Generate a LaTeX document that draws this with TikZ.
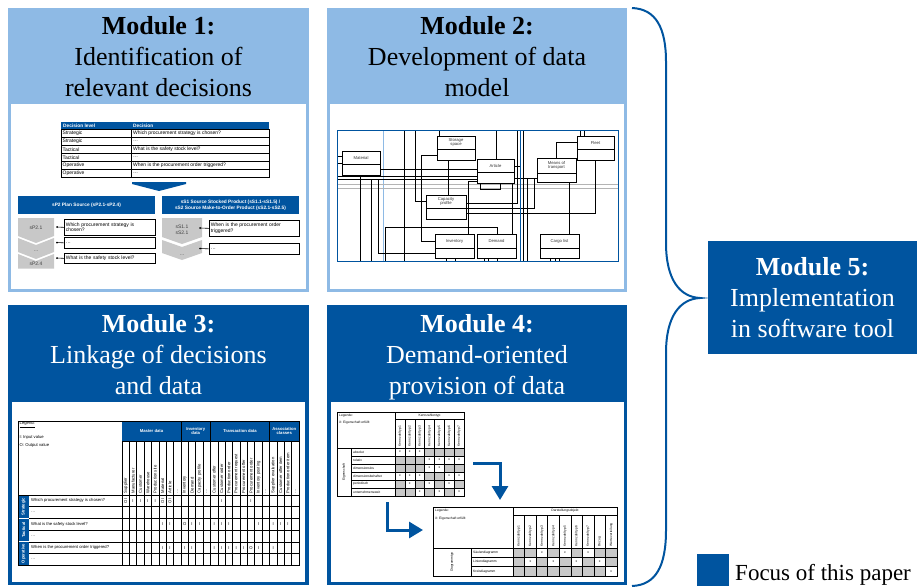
\documentclass[tikz,border=0pt]{standalone}
\usepackage{fontspec}
\setmainfont{Liberation Serif}
\setsansfont{Liberation Sans}
\usetikzlibrary{arrows.meta}
\definecolor{dblue}{HTML}{00549F}
\definecolor{lblue}{HTML}{8EBAE5}
\definecolor{cgray}{HTML}{C8C8C8}
\definecolor{lgray}{HTML}{B4B4B4}
\tikzset{
  ttl/.style={font=\fontsize{26}{31}\selectfont, anchor=base, inner sep=0pt},
  ttlb/.style={font=\bfseries\fontsize{26}{31}\selectfont, anchor=base, inner sep=0pt},
  tA/.style={font=\sffamily\fontsize{5}{5.7}\selectfont, inner sep=0pt},
  tAb/.style={font=\sffamily\bfseries\fontsize{4.8}{5.6}\selectfont, inner sep=0pt, text=white},
  tB/.style={font=\sffamily\fontsize{4.2}{4.8}\selectfont, inner sep=0pt},
  tBb/.style={font=\sffamily\bfseries\fontsize{4.2}{4.8}\selectfont, inner sep=0pt, text=white, align=center},
  tC/.style={font=\sffamily\fontsize{3.3}{3.8}\selectfont, inner sep=0pt},
  tE/.style={font=\sffamily\fontsize{4.2}{4.8}\selectfont, inner sep=0pt, text=black!80, align=center},
  gridl/.style={draw=black, line width=0.6pt},
  thinl/.style={draw=black, line width=0.4pt},
  mline/.style={draw=black, line width=0.7pt},
  qbox/.style={draw, line width=0.7pt, fill=white, font=\sffamily\fontsize{5}{5.7}\selectfont, inner sep=1.5pt, align=left, anchor=north west},
  chev/.style={fill=cgray},
  bigarrow/.style={draw=dblue, line width=3pt, -{Triangle[width=16pt,length=14pt]}},
}
\newcommand{\mkentity}[6]{%
  \fill[white] (#2,#3) rectangle ++(#4,24);
  \draw[line width=0.7pt] (#2,#3) rectangle ++(#4,24);
  \draw[line width=0.7pt] (#2,#3+#5) -- ++(#4,0);
  \node[tE] (#1) at (#2+#4/2,#3+#5/2) {#6};
}
\begin{document}
\begin{tikzpicture}[x=1pt,y=-1pt]
\useasboundingbox (0,0) rectangle (917,588);
% ---------- panels
\fill[lblue] (8,8) rectangle (309,292);
\fill[white] (10.5,104) rectangle (306,289);
\fill[lblue] (327,8) rectangle (627,292);
\fill[white] (329.5,104) rectangle (624,289);
\fill[dblue] (8,305) rectangle (309,585);
\fill[white] (12,402) rectangle (305,582);
\fill[dblue] (327,305) rectangle (627,585);
\fill[white] (331,402) rectangle (623.5,582);
% ---------- titles
\node[ttlb] (m1a) at (158.5,35) {Module 1:};
\node[ttl] (m1b) at (158.5,66) {Identification of};
\node[ttl] (m1c) at (158.5,97) {relevant decisions};
\node[ttlb] (m2a) at (477,35) {Module 2:};
\node[ttl] (m2b) at (477,66) {Development of data};
\node[ttl] (m2c) at (477,97) {model};
\node[ttlb, text=white] (m3a) at (158.5,332) {Module 3:};
\node[ttl, text=white] (m3b) at (158.5,363) {Linkage of decisions};
\node[ttl, text=white] (m3c) at (158.5,394) {and data};
\node[ttlb, text=white] (m4a) at (477,332) {Module 4:};
\node[ttl, text=white] (m4b) at (477,363) {Demand-oriented};
\node[ttl, text=white] (m4c) at (477,394) {provision of data};
% ---------- module 5, brace, legend
\draw[dblue, line width=2pt] (632,8) .. controls (656,9) and (666,28) .. (666,62) -- (666,243)
  .. controls (666,280) and (680,297) .. (700,298)
  .. controls (680,299) and (666,316) .. (666,353) -- (666,530)
  .. controls (666,566) and (656,585) .. (632,586);
\fill[dblue] (708,241) rectangle (917,354);
\node[ttlb, text=white] (m5a) at (812.5,275) {Module 5:};
\node[ttl, text=white] (m5b) at (812.5,306) {Implementation};
\node[ttl, text=white] (m5c) at (812.5,337) {in software tool};
\fill[dblue] (697,554) rectangle (729,586);
\node[font=\fontsize{23}{27}\selectfont, anchor=base west, inner sep=0pt] (leg) at (735,580) {Focus of this paper};
% ---------- module 1 content
\fill[dblue] (61,122) rectangle (269,129.5);
\node[tAb, anchor=west] (h1) at (63,125.8) {Decision level};
\node[tAb, anchor=west] (h2) at (133,125.8) {Decision};
\foreach \lv/\q [count=\i from 0] in {Strategic/Which procurement strategy is chosen?, Strategic/\ldots, Tactical/What is the safety stock level?, Tactical/\ldots, Operative/When is the procurement order triggered?, Operative/\ldots}{
  \draw[thinl] (61,129.5+\i*7.92) rectangle (131,137.42+\i*7.92);
  \draw[gridl] (131,129.5+\i*7.92) rectangle (269,137.42+\i*7.92);
  \node[tA, anchor=west] (lv\i) at (62.5,133.46+\i*7.92) {\lv};
  \node[tA, anchor=west] (qq\i) at (133,133.46+\i*7.92) {\q};
}
\fill[dblue] (132,182) -- (186,182) -- (186,184) -- (159,191) -- (132,184) -- cycle;
\fill[dblue] (18,196) rectangle (155,214);
\node[tAb] (sp2) at (86.5,205) {sP2 Plan Source (sP2.1-sP2.4)};
\fill[dblue] (162,196) rectangle (299,214);
\node[tAb, align=center] (ss1) at (230.5,205) {sS1 Source Stocked Product (sS1.1-sS1.5) /\\sS2 Source Make-to-Order Product (sS2.1-sS2.5)};
\fill[chev] (18,218) -- (54,218) -- (54,236) -- (36,243) -- (18,236) -- cycle;
\fill[chev] (18,238) -- (36,245) -- (54,238) -- (54,252) -- (36,259) -- (18,252) -- cycle;
\fill[chev] (18,254) -- (36,261) -- (54,254) -- (54,268.5) -- (18,268.5) -- cycle;
\node[tA, text=black!75] (c1) at (36,228) {sP2.1};
\node[tA, text=black!75] (c2) at (36,251) {\ldots};
\node[tA, text=black!75] (c3) at (36,264) {sP2.4};
\fill[chev] (162,218) -- (202,218) -- (202,237) -- (182,244) -- (162,237) -- cycle;
\fill[chev] (162,240) -- (182,247) -- (202,240) -- (202,253) -- (182,260) -- (162,253) -- cycle;
\node[tA, text=black!75, align=center] (c4) at (182,229.5) {sS1.1\\sS2.1};
\node[tA, text=black!75] (c5) at (182,255) {\ldots};
\node[qbox, minimum width=91, minimum height=16, text width=88] (b1) at (64,219) {Which procurement strategy is\\chosen?};
\node[qbox, minimum width=91, minimum height=11, text width=88] (b2) at (64,237) {\ldots};
\node[qbox, minimum width=91, minimum height=10, text width=88] (b3) at (64,253) {What is the safety stock level?};
\node[qbox, minimum width=90, minimum height=16, text width=87] (b4) at (209,220) {When is the procurement order\\triggered?};
\node[qbox, minimum width=90, minimum height=11, text width=87] (b5) at (209,243) {\ldots};
\coordinate (d1) at (57,227);
\coordinate (d2) at (57,242.5);
\coordinate (d3) at (57,258);
\coordinate (d4) at (200,228);
\coordinate (d5) at (200,248.5);
\foreach \d/\b in {d1/b1,d2/b2,d3/b3,d4/b4,d5/b5}{
  \draw[line width=0.6pt] (\d) -- (\b.west);
  \fill (\d) circle (1);
}
% ---------- module 2 content
\draw[lblue, line width=0.9pt] (383,131) -- (383,261);
\draw[lgray, line width=0.6pt] (337,184) -- (618,184) (337,188) -- (618,188);
\draw[mline] (404,131) -- (404,261);
\draw[mline] (415,131) -- (415,201) -- (426,201);
\draw[mline] (439,131) -- (439,136);
\draw[mline] (496,131) -- (496,159);
\draw[mline] (517,131) -- (517,203) -- (466,203);
\draw[mline] (514,166) -- (520,166);
\draw[mline] (380,169) -- (477,169);
\draw[mline] (337,176) -- (477,176);
\draw[mline] (337,179) -- (477,179);
\draw[mline] (337,156) -- (342,156) (337,163) -- (342,163);
\draw[mline] (360,175) -- (360,261);
\draw[mline] (371,179) -- (371,261);
\draw[mline] (378,179) -- (378,253) -- (435,253);
\draw[mline] (385,261) -- (385,227) -- (497,227) -- (497,234);
\draw[mline] (437,155) -- (421,155) -- (421,241) -- (435,241);
\draw[mline] (448,160) -- (448,195);
\draw[mline] (480,183) -- (480,189) -- (500,189) -- (500,183);
\draw[mline] (477,181) -- (468,181) -- (468,234);
\draw[mline] (512,183) -- (512,234);
\draw[mline] (514,178) -- (537,178) (527,178) -- (527,261);
\draw[mline] (556,158) -- (556,142) -- (577,142);
\draw[mline] (580,131) -- (580,136) (584,131) -- (584,136);
\draw[mline] (569,183) -- (569,234);
\draw[mline] (466,208) -- (534,208) -- (534,178);
\draw[mline] (466,213) -- (595,213) -- (595,160);
\draw[mline] (446,258) -- (446,261) (455,258) -- (455,261);
\draw[mline] (484,258) -- (484,261) (488,258) -- (488,261) (497,258) -- (497,261);
\draw[mline] (550,258) -- (550,261) (555,258) -- (555,261) (559,258) -- (559,261);
\draw[dblue, line width=0.8pt] (520.5,131) -- (520.5,261);
\draw[black, line width=0.6pt] (523,131) -- (523,261);
\mkentity{mat}{342}{151}{38}{13}{Material}
\mkentity{sto}{437}{136}{38}{13}{Storage\\space}
\mkentity{art}{477}{159}{37}{13}{Article}
\mkentity{mot}{537}{158}{39}{15}{Means of\\transport}
\mkentity{flt}{577}{136}{37}{13}{Fleet}
\mkentity{cap}{426}{195}{40}{13}{Capacity\\profile}
\mkentity{inv}{435}{234}{39}{14}{Inventory}
\mkentity{dem}{477}{234}{39}{14}{Demand}
\mkentity{car}{540}{234}{39}{14}{Cargo list}
\draw[dblue, line width=1pt] (337,131) rectangle (618,261);
% ---------- module 3 content
\fill[dblue] (122,421) rectangle (299,441);
\node[tBb] (g1) at (151.5,431) {Master data};
\node[tBb] (g2) at (195.75,431) {Inventory\\data};
\node[tBb] (g3) at (240,431) {Transaction data};
\node[tBb] (g4) at (284.25,431) {Association\\classes};
\node[tB, anchor=west] (lg1) at (19.5,424.5) {\underline{Legend:}};
\node[tB, anchor=west] (lg2) at (19.5,437) {I: Input value};
\node[tB, anchor=west] (lg3) at (19.5,445) {O: Output value};
\foreach \c [count=\i from 0] in {Supplier, Manufacturer, Customer, Warehouse, Production site, Material, Article, \ldots, Inventory, Demand, Capacity profile, \ldots, Customer offer, Customer order, Production order, Procurement request, Procurement offer, Procurement order, Inventory posting, \ldots, Supplier evaluation, Customer offer item, Production order item, \ldots}{
  \node[tB, rotate=90, anchor=west] (ch\i) at (122+\i*7.375+3.69,493.5) {\c};
}
\fill[dblue] (18,495) rectangle (29,518.4);
\fill[dblue] (18,518.4) rectangle (29,541.8);
\fill[dblue] (18,541.8) rectangle (29,565.2);
\draw[white, line width=0.8pt] (18,518.4) -- (29,518.4) (18,541.8) -- (29,541.8);
\node[tBb, rotate=90] (s1) at (23.5,506.7) {Strategic};
\node[tBb, rotate=90] (s2) at (23.5,530.1) {Tactical};
\node[tBb, rotate=90] (s3) at (23.5,553.5) {Operative};
\foreach \q [count=\i from 0] in {Which procurement strategy is chosen?, \ldots, What is the safety stock level?, \ldots, When is the procurement order triggered?, \ldots}{
  \node[tB, anchor=west] (rq\i) at (31,500.85+\i*11.7) {\q};
}
\foreach \i in {0,...,24}{
  \draw[gridl] (122+\i*7.375,441) -- (122+\i*7.375,565.2);
}
\foreach \r in {0,...,6}{
  \draw[gridl] (29,495+\r*11.7) -- (299,495+\r*11.7);
}
\draw[gridl] (122,441) -- (299,441);
\draw[gridl] (181,421) -- (181,441) (210.5,421) -- (210.5,441) (269.5,421) -- (269.5,441);
\draw[gridl] (18,421) rectangle (299,565.2);
\draw[gridl] (18,495) -- (122,495);
\foreach \r/\c/\t in {0/1/I, 0/2/I, 0/3/I, 0/4/I, 0/13/I, 0/17/I, 2/5/I, 2/6/I, 2/8/O, 2/9/I, 2/10/I, 2/12/I, 2/13/I, 2/14/I, 2/18/I, 2/20/I, 2/21/I, 2/22/I, 4/5/I, 4/6/I, 4/8/I, 4/9/I, 4/12/I, 4/13/I, 4/14/I, 4/15/I, 4/16/I, 4/17/O, 4/18/I, 4/20/I}{
  \node[tB] at (122+\c*7.375+3.69,500.85+\r*11.7) {\t};
}
\foreach \c in {0,5,6}{
  \node[tB, rotate=90] at (122+\c*7.375+3.69,500.85) {O\,I};
}
% ---------- module 4 content : table 1
\foreach \r/\c in {0/3,0/4,0/5,0/6,1/0,1/1,1/2,2/0,2/1,2/2,2/5,2/6,3/3,3/4,4/0,4/2,4/4,4/6,5/0,5/1,5/3,5/5}{
  \fill[cgray] (395+\c*9.857,448+\r*8) rectangle ++(9.857,8);
}
\foreach \r/\c in {0/0,0/1,0/2,1/3,1/4,1/5,1/6,2/3,2/4,3/0,3/1,3/2,3/5,3/6,4/1,4/3,4/5,5/2,5/4,5/6}{
  \node[tC] at (395+\c*9.857+4.93,452+\r*8) {x};
}
\draw[thinl] (337,412) rectangle (464,496);
\draw[thinl] (395,412) -- (395,496) (395,419) -- (464,419) (337,448) -- (464,448) (351,448) -- (351,496);
\foreach \i in {1,...,6}{
  \draw[thinl] (395+\i*9.857,419) -- (395+\i*9.857,496);
}
\foreach \r in {1,...,5}{
  \draw[thinl] (351,448+\r*8) -- (464,448+\r*8);
}
\node[tC, anchor=west] (l1a) at (339,416) {Legende:};
\node[tC, anchor=west] (l1b) at (339,423) {X: Eigenschaft erfüllt};
\node[tC] (k1) at (429.5,415.5) {Kennzahlentyp};
\foreach \i in {1,...,7}{
  \node[tC, rotate=90, anchor=west] at (395+\i*9.857-4.93,446.5) {Kennzahltyp \i};
}
\foreach \t [count=\i from 0] in {absolut, relativ, dimensionslos, dimensionsbehaftet, periodisch, unternehmensweit}{
  \node[tC, anchor=west] at (353,452+\i*8) {\t};
}
\node[tC, rotate=90] (e1) at (344,472) {Eigenschaft};
% ---------- module 4 content : table 2
\foreach \r/\c in {0/0,0/1,0/3,0/5,0/7,0/8,1/0,1/2,1/4,1/6,1/8,2/0,2/1,2/2,2/3,2/4,2/5,2/6,2/7}{
  \fill[cgray] (513+\c*11.556,548+\r*9.33) rectangle ++(11.556,9.33);
}
\foreach \r/\c in {0/2,0/4,0/6,1/1,1/3,1/5,1/7,2/8}{
  \node[tC] at (513+\c*11.556+5.78,552.67+\r*9.33) {x};
}
\draw[thinl] (433,507) rectangle (617,576);
\draw[thinl] (513,507) -- (513,576) (513,515) -- (617,515) (433,548) -- (617,548) (471,548) -- (471,576);
\foreach \i in {1,...,8}{
  \draw[thinl] (513+\i*11.556,515) -- (513+\i*11.556,576);
}
\foreach \r in {1,2}{
  \draw[thinl] (471,548+\r*9.33) -- (617,548+\r*9.33);
}
\node[tC, anchor=west] (l2a) at (435,511) {Legende:};
\node[tC, anchor=west] (l2b) at (435,518.5) {X: Eigenschaft erfüllt};
\node[tC] (k2) at (565,511) {Darstellungsobjekt};
\foreach \t [count=\i from 0] in {Kennzahltyp 1, Kennzahltyp 2, Kennzahltyp 3, Kennzahltyp 4, Kennzahltyp 5, Kennzahltyp 6, Kennzahltyp 7, Bezug, Werteverteilung}{
  \node[tC, rotate=90, anchor=west] at (513+\i*11.556+5.78,546.5) {\t};
}
\foreach \t [count=\i from 0] in {Säulendiagramm, Liniendiagramm, Kreisdiagramm}{
  \node[tC, anchor=west] at (473,552.67+\i*9.33) {\t};
}
\node[tC, rotate=90] (e2) at (452,562) {Diagrammtyp};
% arrows
\coordinate (a1s) at (473,463);
\coordinate (a1e) at (500,500);
\coordinate (a2s) at (387,502);
\coordinate (a2e) at (423,530);
\draw[bigarrow] (a1s) -| (a1e);
\draw[bigarrow] (a2s) |- (a2e);
\end{tikzpicture}
\end{document}
